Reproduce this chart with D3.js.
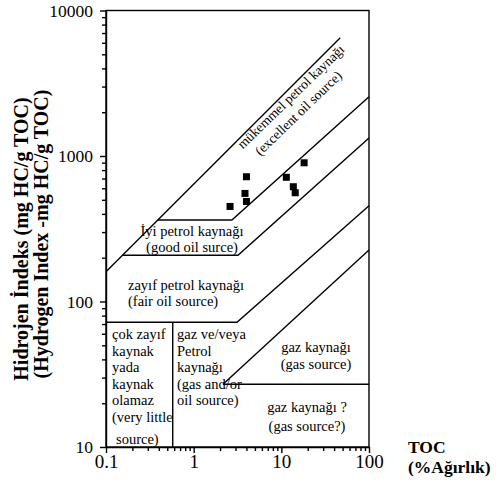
<!DOCTYPE html>
<html>
<head>
<meta charset="utf-8">
<script src="https://cdn.jsdelivr.net/npm/d3@7"></script>
<style>
  body { margin: 0; background: #fff; }
  svg { display: block; }
  .axis path, .axis line { stroke: #000; stroke-width: 1.4; }
</style>
</head>
<body>
<div id="chart"></div>
<script>
var widthT = 504, heightT = 486;
var serif = "'Liberation Serif', 'Times New Roman', Times, serif";

// tick labels
var tocTicks = [0.1, 1, 10, 100];
var hiTicks = [10, 100, 1000, 10000];

// samples (TOC %, HI mg HC/g TOC)
var sampleToc = [2.6, 4.0, 3.85, 4.0, 11.4, 13.7, 14.4, 18.2];
var sampleHi  = [450, 487, 553, 720, 714, 615, 559, 898];

// class boundaries [TOC, HI]
var excellentUpper = [[0.1, 160], [47, 6500]];
var excellentLower = [[0.39, 363], [2.73, 363], [100, 2550]];
var goodLower      = [[0.155, 208], [3.2, 208], [100, 1330]];
var fairLower      = [[0.1, 72], [3.12, 72], [100, 455]];
var gasUpper       = [[2.16, 27], [100, 226]];
var gasLower       = [[2.16, 27], [100, 27]];
var poorDivider    = [[0.577, 72], [0.577, 10]];

var svg = d3.select("#chart").append("svg")
    .attr("width", widthT)
    .attr("height", heightT)
    .attr("font-family", serif);

var x = d3.scaleLog().domain([0.1, 100]).range([106, 369]);
var y = d3.scaleLog().domain([10, 10000]).range([447, 10.5]);

// all ticks 1..9 per decade
function allTicks(lo, hi) {
  var out = [];
  for (var p = lo; p < hi; p *= 10)
    for (var k = 1; k < 10; k++) out.push(+(p * k).toPrecision(3));
  out.push(hi);
  return out;
}
function isMajor(v) { return Math.abs(Math.log10(v) - Math.round(Math.log10(v))) < 1e-6; }
var fmt = function(d) { return isMajor(d) ? String(d) : ""; };

// frame (top + right)
svg.append("rect")
    .attr("x", x(0.1)).attr("y", y(10000))
    .attr("width", x(100) - x(0.1)).attr("height", y(10) - y(10000))
    .attr("fill", "none").attr("stroke", "#000").attr("stroke-width", 1.4);

// y axis
var gy = svg.append("g").attr("class", "axis")
    .attr("transform", "translate(" + x(0.1) + ",0)")
    .call(d3.axisLeft(y).tickValues(allTicks(10, 10000)).tickFormat(fmt)
      .tickSize(4).tickSizeOuter(0).tickPadding(9));
gy.attr("font-family", serif).attr("font-size", 17.5);
gy.selectAll(".tick").filter(function(d) { return isMajor(d); })
    .select("line").attr("x2", -6);

// x axis
var gx = svg.append("g").attr("class", "axis")
    .attr("transform", "translate(0," + y(10) + ")")
    .call(d3.axisBottom(x).tickValues(allTicks(0.1, 100)).tickFormat(fmt)
      .tickSize(4).tickSizeOuter(0).tickPadding(4));
gx.attr("font-family", serif).attr("font-size", 19);
gx.selectAll(".tick").filter(function(d) { return isMajor(d); })
    .select("line").attr("y2", 6);

// boundaries
var line = d3.line()
    .x(function(d) { return x(d[0]); })
    .y(function(d) { return y(d[1]); });

[excellentUpper, excellentLower, goodLower, fairLower, gasUpper, gasLower, poorDivider]
  .forEach(function(b) {
    svg.append("path")
        .datum(b)
        .attr("fill", "none")
        .attr("stroke", "#000")
        .attr("stroke-width", 1.4)
        .attr("d", line);
  });

// samples
var samples = sampleToc.map(function(t, i) { return [t, sampleHi[i]]; });
svg.append("g").selectAll("rect.pt")
    .data(samples)
  .enter().append("rect")
    .attr("class", "pt")
    .attr("x", function(d) { return x(d[0]) - 3.5; })
    .attr("y", function(d) { return y(d[1]) - 3.5; })
    .attr("width", 7).attr("height", 7)
    .attr("fill", "#000");

// region labels
var lab = svg.append("g").attr("font-size", 14.5).attr("fill", "#000");

var exc = lab.append("g").attr("transform", "translate(294,100) rotate(-44)")
    .attr("font-size", 13.6);
exc.append("text").attr("text-anchor", "middle").text("mükemmel petrol kaynağı");
exc.append("text").attr("text-anchor", "middle").attr("x", -6).attr("y", 17).text("(excellent oil source)");

lab.append("text").attr("x", 192).attr("y", 236).attr("text-anchor", "middle").text("İyi petrol kaynağı");
lab.append("text").attr("x", 192).attr("y", 252).attr("text-anchor", "middle").text("(good oil surce)");

lab.append("text").attr("x", 128).attr("y", 290).text("zayıf petrol kaynağı");
lab.append("text").attr("x", 128).attr("y", 306).text("(fair oil source)");

svg.append("clipPath").attr("id", "poorClip")
  .append("rect").attr("x", x(0.1)).attr("y", y(72))
  .attr("width", x(0.577) - x(0.1) - 1).attr("height", y(10) - y(72));
var poor = lab.append("g").attr("clip-path", "url(#poorClip)");
var poorLines = ["çok zayıf", "kaynak", "yada", "kaynak", "olamaz", "(very little"];
poorLines.forEach(function(s, i) {
  poor.append("text").attr("x", 112).attr("y", 339 + i * 16.5).text(s);
});
poor.append("text").attr("x", 116).attr("y", 444).text("source)");

var mixLines = ["gaz ve/veya", "Petrol", "kaynağı", "(gas and/or", "oil source)"];
mixLines.forEach(function(s, i) {
  lab.append("text").attr("x", 177).attr("y", 339 + i * 16.5).text(s);
});

lab.append("text").attr("x", 316).attr("y", 352).attr("text-anchor", "middle").text("gaz kaynağı");
lab.append("text").attr("x", 316).attr("y", 369).attr("text-anchor", "middle").text("(gas source)");

lab.append("text").attr("x", 307).attr("y", 412).attr("text-anchor", "middle").text("gaz kaynağı ?");
lab.append("text").attr("x", 307).attr("y", 431).attr("text-anchor", "middle").text("(gas source?)");

// axis titles
svg.append("text")
    .attr("transform", "translate(28,239) rotate(-90)")
    .attr("text-anchor", "middle")
    .attr("font-size", 20).attr("font-weight", "bold")
    .text("Hidrojen İndeks  (mg HC/g TOC)");
svg.append("text")
    .attr("transform", "translate(48,234) rotate(-90)")
    .attr("text-anchor", "middle")
    .attr("font-size", 20).attr("font-weight", "bold")
    .text("(Hydrogen Index -mg HC/g TOC)");

svg.append("text").attr("x", 408).attr("y", 453)
    .attr("font-size", 17.5).attr("font-weight", "bold").text("TOC");
svg.append("text").attr("x", 408).attr("y", 473)
    .attr("font-size", 17.5).attr("font-weight", "bold").text("(%Ağırlık)");
</script>
</body>
</html>
